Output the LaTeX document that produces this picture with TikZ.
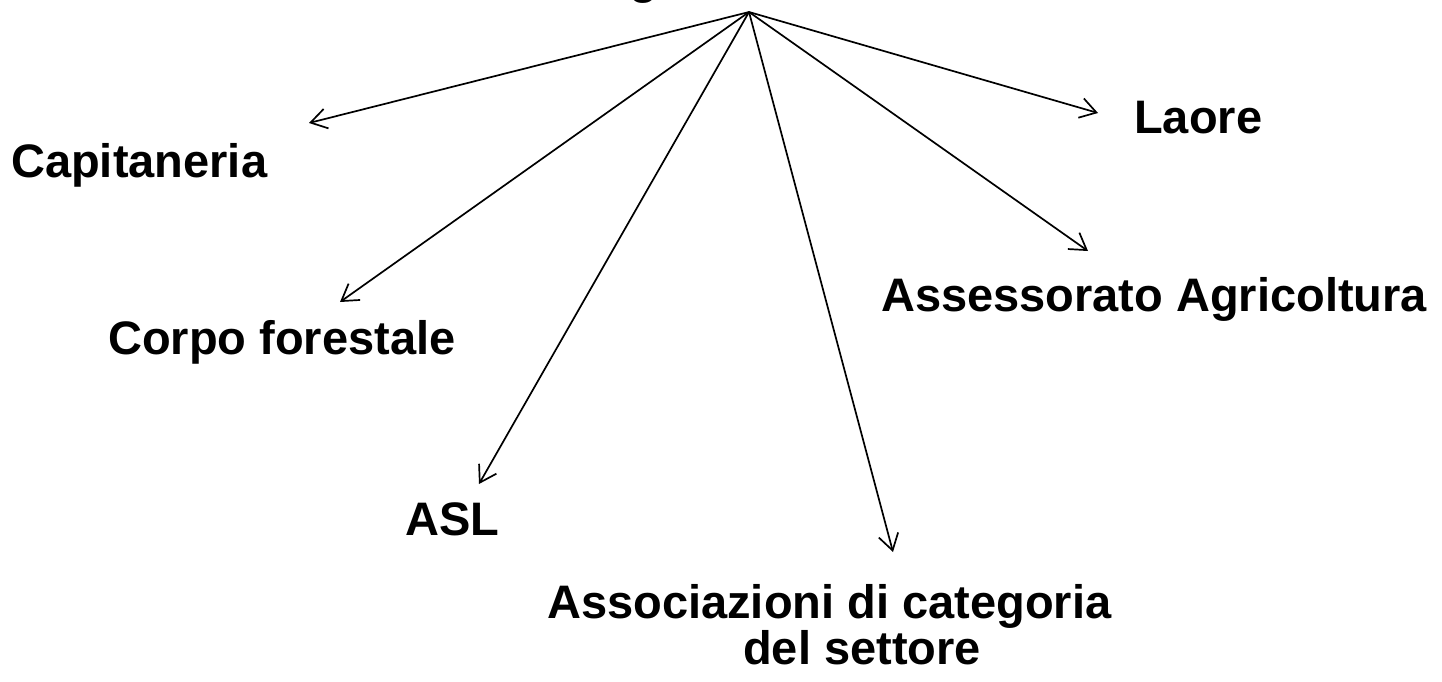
\documentclass[tikz,border=0pt]{standalone}
\usepackage{fontspec}
\setmainfont{Liberation Sans}
\usetikzlibrary{arrows.meta}
\begin{document}
\begin{tikzpicture}[x=1pt,y=-1pt,
  lbl/.style={anchor=base west,inner sep=0pt,font=\fontsize{47}{38}\selectfont\bfseries,align=left},
  link/.style={draw=black,line width=1.7pt,-{Straight Barb[length=16pt,width=20pt,line width=1.7pt]}}]
\useasboundingbox[fill=white] (0,0) rectangle (1442,682);
\node[lbl] (src) at (569,-6) {Regione};
\coordinate (apex) at (749,12);
\node[lbl] (cap) at (11,177) {Capitaneria};
\node[lbl] (lao) at (1134,133) {Laore};
\node[lbl] (cor) at (108,354) {Corpo forestale};
\node[lbl] (ass) at (881,311) {Assessorato Agricoltura};
\node[lbl] (asl) at (405,535) {ASL};
\node[lbl] (aso) at (547,664) {Associazioni di categoria\\\hspace*{196pt}del settore};
\coordinate (tcap) at (309,123);
\coordinate (tlao) at (1098,113);
\coordinate (tcor) at (340,302);
\coordinate (tass) at (1088,251);
\coordinate (tasl) at (479,484);
\coordinate (taso) at (893,552);
\foreach \t in {tcap,tlao,tcor,tass,tasl,taso}
  \draw[link] (apex) -- (\t);
\end{tikzpicture}
\end{document}
